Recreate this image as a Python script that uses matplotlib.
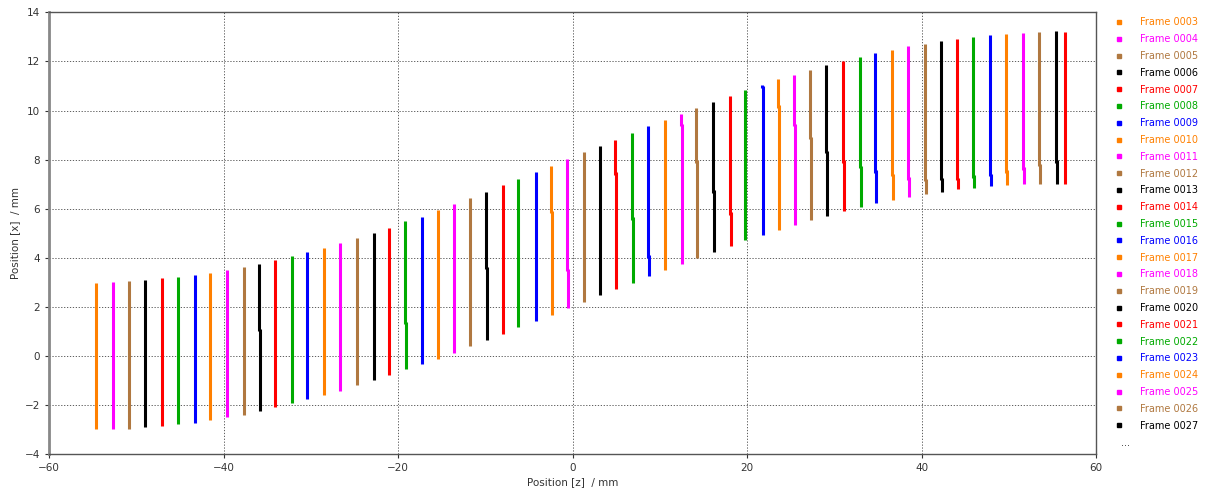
import numpy as np
import matplotlib.pyplot as plt
from matplotlib.lines import Line2D

# frame numbers and position of each beam scan
frames = list(range(3, 64))
z_pos = [-54.6, -52.7, -50.8, -49.0, -47.1, -45.2, -43.3, -41.5, -39.6, -37.7,
         -35.9, -34.1, -32.2, -30.4, -28.5, -26.6, -24.7, -22.8, -21.0, -19.2,
         -17.3, -15.4, -13.6, -11.7, -9.9, -8.0, -6.2, -4.2, -2.5, -0.6,
         1.3, 3.1, 4.9, 6.8, 8.7, 10.6, 12.4, 14.2, 16.1, 18.0,
         19.8, 21.7, 23.5, 25.4, 27.2, 29.1, 31.0, 32.9, 34.7, 36.6,
         38.5, 40.4, 42.2, 44.1, 45.9, 47.8, 49.7, 51.6, 53.5, 55.4, 56.5]
x_top = [2.99, 3.03, 3.06, 3.09, 3.16, 3.21, 3.29, 3.40, 3.52, 3.64,
         3.76, 3.91, 4.06, 4.24, 4.41, 4.61, 4.81, 5.03, 5.23, 5.49,
         5.68, 5.95, 6.18, 6.45, 6.70, 6.97, 7.20, 7.49, 7.75, 8.01,
         8.30, 8.54, 8.81, 9.09, 9.36, 9.60, 9.87, 10.12, 10.36, 10.60,
         10.82, 11.04, 11.27, 11.45, 11.66, 11.85, 12.02, 12.17, 12.33, 12.48,
         12.63, 12.72, 12.84, 12.92, 13.01, 13.09, 13.13, 13.17, 13.20, 13.23, 13.20]
x_bottom = [-2.98, -2.98, -2.95, -2.88, -2.85, -2.77, -2.71, -2.59, -2.49, -2.39,
            -2.22, -2.08, -1.92, -1.76, -1.58, -1.41, -1.19, -0.97, -0.77, -0.54,
            -0.32, -0.10, 0.14, 0.40, 0.66, 0.90, 1.17, 1.42, 1.69, 1.96,
            2.20, 2.48, 2.75, 2.99, 3.26, 3.51, 3.75, 4.01, 4.23, 4.48,
            4.73, 4.93, 5.14, 5.33, 5.53, 5.71, 5.91, 6.06, 6.22, 6.35,
            6.49, 6.60, 6.70, 6.79, 6.85, 6.93, 6.97, 7.01, 7.02, 7.02, 7.02]
# where the scan jumps sideways (nan = no jump)
x_break = [np.nan] * 10 + [1.06] + [np.nan] * 8 + [1.34] + [np.nan] * 4 + [3.58] \
    + [np.nan] * 3 + [5.87, 3.51, np.nan, np.nan, 7.44, 5.61, 4.05, np.nan, 9.41,
                      7.92, 6.70, 5.81, np.nan, 10.95, 10.16, 9.41, 8.87, 8.32,
                      7.92, 7.71, 7.51, 7.38, 7.24, 7.17, 7.20, 7.20, 7.31, 7.38,
                      7.51, 7.64, 7.78, 7.92, np.nan]

colors = ['#ff8000', '#ff00ff', '#b07840', '#000000', '#ff0000', '#00aa00', '#0000ff']
shift = 0.12

fig = plt.figure(figsize=(12.1, 4.97), dpi=100)
ax = fig.add_axes([0.0405, 0.0859, 0.8653, 0.8894])

for i, f in enumerate(frames):
    c = colors[i % len(colors)]
    z = z_pos[i]
    if np.isnan(x_break[i]):
        ax.plot([z, z], [x_bottom[i], x_top[i]], color=c, lw=2.2, solid_capstyle='butt')
    else:
        ax.plot([z, z], [x_break[i] - 0.05, x_top[i]], color=c, lw=2.2, solid_capstyle='butt')
        ax.plot([z + shift, z + shift], [x_bottom[i], x_break[i] + 0.05], color=c, lw=2.2,
                solid_capstyle='butt')

ax.set_xlim(-60, 60)
ax.set_ylim(-4, 14)
ax.set_xticks(np.arange(-60, 61, 20))
ax.set_yticks(np.arange(-4, 15, 2))
ax.set_axisbelow(True)
ax.grid(True, color='#444444', linestyle=(0, (1.5, 2)), linewidth=0.6)
ax.tick_params(labelsize=7.5, length=3, width=0.8, colors='#333333')
for s in ax.spines.values():
    s.set_color('#555555')
    s.set_linewidth(1.0)
ax.spines['left'].set_color('#888888')
ax.spines['left'].set_linewidth(2)
ax.set_xlabel('Position [z]  / mm', fontsize=7.5, color='#333333', labelpad=3)
ax.set_ylabel('Position [x]  / mm', fontsize=7.5, color='#333333', labelpad=3)

# legend only lists the first frames
handles = []
for i, f in enumerate(frames[:25]):
    handles.append(Line2D([], [], linestyle='none', marker='s', markersize=2.5,
                          color=colors[i % len(colors)], label='Frame %04d' % f))
leg = fig.legend(handles=handles, loc='upper left', bbox_to_anchor=(0.9186, 0.973),
                 frameon=False, fontsize=7, labelspacing=0.70, handlelength=0.8,
                 handletextpad=1.7, labelcolor='linecolor', borderaxespad=0)
fig.text(0.9265, 0.1087, '...', fontsize=7, color='#333333', ha='left', va='center')

fig.savefig('out.png', dpi=100)
